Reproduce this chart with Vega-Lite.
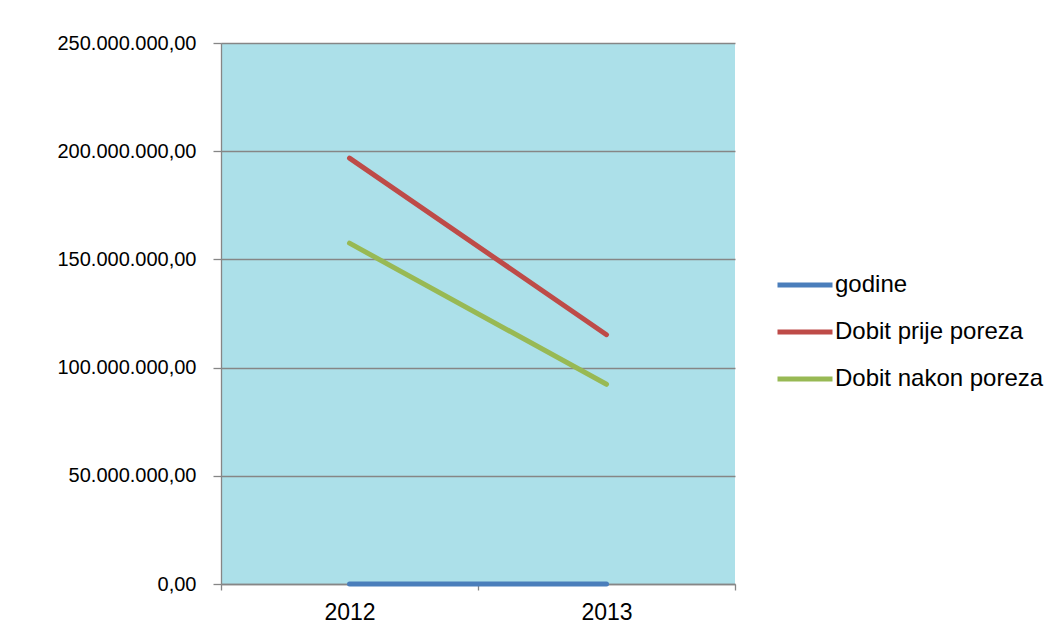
{
  "$schema": "https://vega.github.io/schema/vega-lite/v6.json",
  "autosize": "none",
  "width": 514,
  "height": 541,
  "padding": {"left": 221, "top": 43, "right": 325, "bottom": 60},
  "background": "white",
  "config": {
    "locale": {"number": {"decimal": ",", "thousands": ".", "grouping": [3], "currency": ["", ""]}},
    "font": "Liberation Sans",
    "view": {"fill": "#ace0e9", "stroke": null}
  },
  "data": {
    "values": [
      {"year": "2012", "series": "godine", "value": 2012},
      {"year": "2013", "series": "godine", "value": 2013},
      {"year": "2012", "series": "Dobit prije poreza", "value": 196800000},
      {"year": "2013", "series": "Dobit prije poreza", "value": 115200000},
      {"year": "2012", "series": "Dobit nakon poreza", "value": 157500000},
      {"year": "2013", "series": "Dobit nakon poreza", "value": 92300000}
    ]
  },
  "mark": {"type": "line", "strokeWidth": 5, "strokeCap": "round"},
  "encoding": {
    "x": {
      "field": "year", "type": "ordinal",
      "scale": {"type": "band", "paddingInner": 0, "paddingOuter": 0},
      "axis": {
        "title": null, "labelAngle": 0, "tickBand": "extent",
        "domainColor": "#868686", "domainWidth": 1.3,
        "tickColor": "#868686", "tickWidth": 1.3, "tickSize": 6,
        "labelFontSize": 23, "labelColor": "#000000", "labelPadding": 11, "grid": false
      }
    },
    "y": {
      "field": "value", "type": "quantitative",
      "scale": {"domain": [0, 250000000], "nice": false, "zero": true},
      "axis": {
        "title": null, "values": [0, 50000000, 100000000, 150000000, 200000000, 250000000],
        "format": ",.2f",
        "domainColor": "#868686", "domainWidth": 1.3,
        "tickColor": "#868686", "tickWidth": 1.3, "tickSize": 8,
        "gridColor": "#868686", "gridWidth": 1.5, "grid": true,
        "labelFontSize": 20, "labelColor": "#000000", "labelPadding": 17
      }
    },
    "color": {
      "field": "series", "type": "nominal",
      "scale": {
        "domain": ["godine", "Dobit prije poreza", "Dobit nakon poreza"],
        "range": ["#4a7ebb", "#be4b48", "#98b954"]
      },
      "legend": {
        "title": null, "orient": "none", "legendX": 554, "legendY": 212,
        "symbolType": "stroke", "symbolSize": 3025, "symbolStrokeWidth": 5,
        "labelFontSize": 24, "labelColor": "#000000", "labelOffset": 0, "labelLimit": 400,
        "rowPadding": 5
      }
    }
  }
}
